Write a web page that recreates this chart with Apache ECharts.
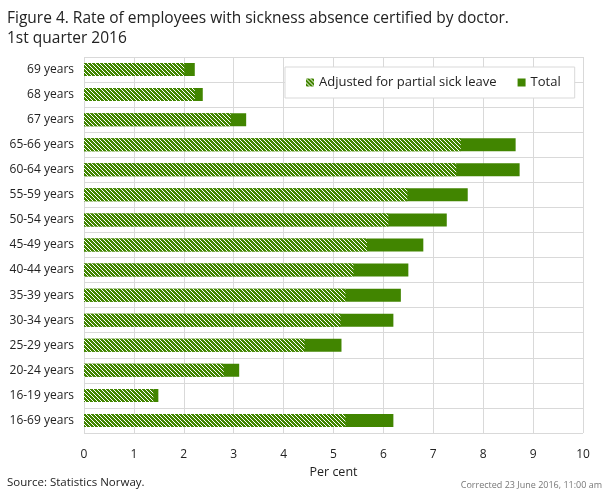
<!DOCTYPE html>
<html>
<head>
<meta charset="utf-8">
<script src="https://cdn.jsdelivr.net/npm/echarts@6/dist/echarts.min.js"></script>
<style>
html,body{margin:0;padding:0;background:#fff;}
#c{width:610px;height:489px;}
</style>
</head>
<body>
<div id="c"></div>
<script>
const categories = ['69 years','68 years','67 years','65-66 years','60-64 years','55-59 years','50-54 years','45-49 years','40-44 years','35-39 years','30-34 years','25-29 years','20-24 years','16-19 years','16-69 years'];
const totalValues = [2.22, 2.38, 3.25, 8.65, 8.73, 7.69, 7.27, 6.80, 6.50, 6.35, 6.20, 5.16, 3.11, 1.49, 6.20];
const adjustedValues = [2.01, 2.22, 2.94, 7.55, 7.46, 6.48, 6.10, 5.67, 5.40, 5.24, 5.14, 4.42, 2.80, 1.39, 5.24];
const xTicks = [0,1,2,3,4,5,6,7,8,9,10];

const GREEN = '#418500';
function hatch() {
  const cv = document.createElement('canvas');
  cv.width = 4; cv.height = 4;
  const ctx = cv.getContext('2d');
  ctx.fillStyle = GREEN;
  ctx.fillRect(0,0,4,4);
  ctx.fillStyle = '#ffffff';
  for (let i = 0; i < 4; i++) ctx.fillRect(i, i, 1, 1);
  return cv;
}
const pattern = {image: hatch(), repeat: 'repeat'};

const chart = echarts.init(document.getElementById('c'), null, {renderer:'canvas'});
const FONT = '"Open Sans", "Noto Sans", sans-serif';
chart.setOption({
  animation: false,
  textStyle: {fontFamily: FONT},
  title: [{
    text: 'Figure 4. Rate of employees with sickness absence certified by doctor.\n1st quarter 2016',
    left: 2, top: 4,
    textStyle: {fontFamily: FONT, fontSize: 15.5, fontWeight: 'normal', color: '#222', lineHeight: 20}
  }, {
    text: 'Source: Statistics Norway.',
    left: 2, top: 472,
    textStyle: {fontFamily: FONT, fontSize: 11.5, fontWeight: 'normal', color: '#222'}
  }, {
    text: 'Corrected 23 June 2016, 11:00 am',
    right: 3, top: 476,
    textStyle: {fontFamily: FONT, fontSize: 9, fontWeight: 'normal', color: '#777'}
  }],
  legend: {
    data: ['Adjusted for partial sick leave', 'Total'],
    left: 285, top: 67, width: 290, height: 32,
    padding: [9, 14, 9, 21],
    backgroundColor: '#fff',
    borderColor: '#d9d9d9', borderWidth: 1,
    itemWidth: 8, itemHeight: 8, itemGap: 21,
    icon: 'rect',
    textStyle: {fontFamily: FONT, fontSize: 13, color: '#222', padding: [0,0,0,0]}
  },
  grid: {left: 84, right: 27, top: 57, bottom: 56, containLabel: false},
  xAxis: {
    type: 'value', min: 0, max: 10, interval: 1,
    name: 'Per cent', nameLocation: 'middle', nameGap: 14,
    nameTextStyle: {fontFamily: FONT, fontSize: 12.5, color: '#222'},
    axisLine: {show: false}, axisTick: {show: false},
    axisLabel: {fontFamily: FONT, fontSize: 12, color: '#222', margin: 16,
      formatter: v => xTicks.includes(v) ? String(v) : ''},
    splitLine: {show: true, lineStyle: {color: '#d9d9d9', width: 1}}
  },
  yAxis: {
    type: 'category', data: categories, inverse: true,
    axisLine: {show: false}, axisTick: {show: false},
    axisLabel: {fontFamily: FONT, fontSize: 12, color: '#222', margin: 10},
    splitLine: {show: true, interval: 0, lineStyle: {color: '#d9d9d9', width: 1}}
  },
  series: [{
    name: 'Total', type: 'bar', data: totalValues, barWidth: 13,
    itemStyle: {color: GREEN}, z: 2
  }, {
    name: 'Adjusted for partial sick leave', type: 'bar', data: adjustedValues, barWidth: 13,
    barGap: '-100%',
    itemStyle: {color: pattern}, z: 3
  }]
});
</script>
</body>
</html>
